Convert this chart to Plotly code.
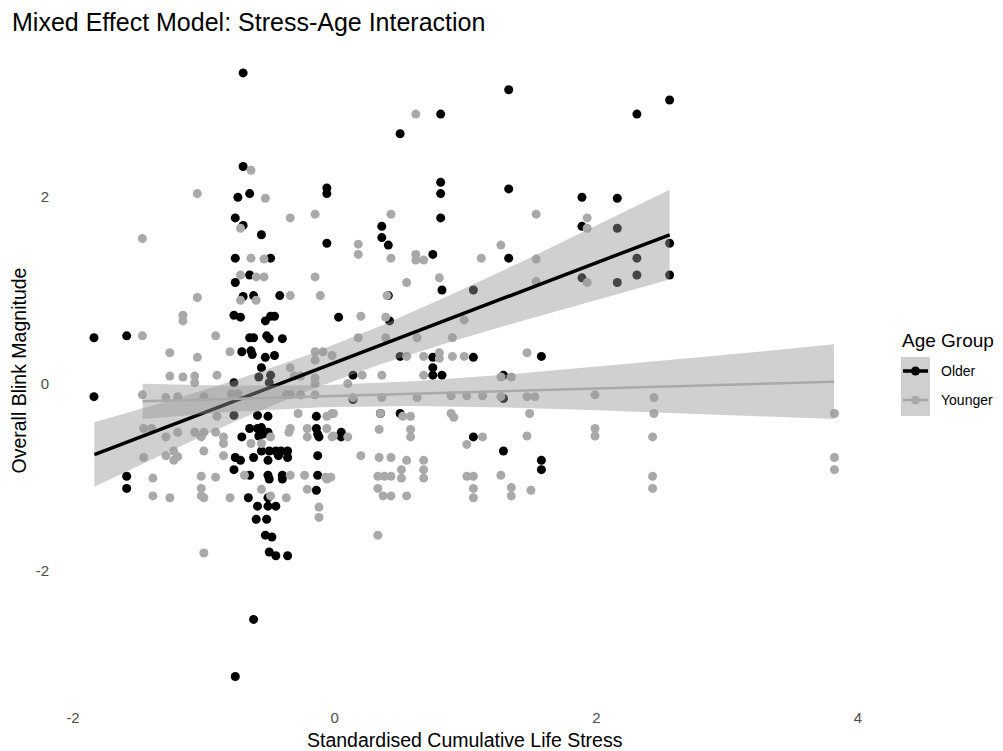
import plotly.graph_objects as go

# ---------------- data ----------------
older_stress = [
    -1.84, -1.84, -1.59, -1.59, -1.59,
    -0.70, -0.70, -0.74, -0.65, -0.06, -0.06,
    -0.76, -0.70, -0.56, -0.06, -0.76, -0.49,
    -0.65, -0.76, -0.70, -0.62, -0.42,
    -0.77, -0.72, -0.53, -0.49, -0.46, 0.03,
    -0.65, -0.62, -0.52, -0.50, -0.40,
    -0.71, -0.64, -0.63, -0.53, -0.46,
    -0.56, -0.58, -0.49, -0.77, -0.50,
    -0.77, -0.59, -0.51, -0.14,
    -0.65, -0.59, -0.56, -0.58, -0.55, -0.51, -0.71,
    -0.14, -0.13, -0.12,
    -0.56, -0.50, -0.45, -0.41, -0.36, -0.43, -0.36,
    -0.76, -0.72, -0.62, -0.51, -0.13,
    -0.77, -0.65, -0.51, -0.50, -0.40, -0.40, -0.13, -0.14,
    -0.66, -0.51, -0.59, -0.51, -0.45, -0.60, -0.52,
    -0.53, -0.48, -0.50, -0.45, -0.36, -0.62, -0.76,
    0.81, 0.50, 0.81, 0.81, 0.81, 0.36, 0.36, 0.41, 0.75,
    0.82, 1.06, 0.41, 0.42, 0.50, 0.75, 0.75, 1.06,
    0.14, 0.75, 0.82, 0.14, 0.35, 0.50, 0.05, 0.05, 1.06,
    1.33, 1.33, 1.89, 2.16, 1.89, 2.16, 1.33, 1.89, 2.16,
    1.58, 1.29, 1.29, 1.29, 1.58, 1.58,
    2.31, 2.56, 2.56, 2.31, 2.31, 2.56,
]
older_blink = [
    0.49, -0.14, 0.51, -0.99, -1.12,
    3.32, 2.32, 1.99, 2.03, 2.09, 2.03,
    1.77, 1.69, 1.59, 1.50, 1.34, 1.34,
    1.16, 1.08, 0.93, 0.94, 0.94,
    0.73, 0.71, 0.67, 0.72, 0.72, 0.71,
    0.49, 0.49, 0.51, 0.48, 0.48,
    0.34, 0.35, 0.31, 0.28, 0.30,
    0.17, 0.07, 0.09, 0.01, 0.01,
    -0.34, -0.34, -0.35, -0.35,
    -0.48, -0.48, -0.47, -0.56, -0.54, -0.52, -0.57,
    -0.48, -0.54, -0.57,
    -0.72, -0.72, -0.72, -0.72, -0.72, -0.77, -0.79,
    -0.79, -0.82, -0.79, -0.82, -0.77,
    -0.92, -0.98, -0.98, -1.02, -0.98, -1.02, -0.98, -1.14,
    -1.22, -1.22, -1.31, -1.31, -1.31, -1.45, -1.45,
    -1.62, -1.64, -1.80, -1.84, -1.84, -2.52, -3.13,
    2.88, 2.67, 2.15, 2.03, 1.77, 1.68, 1.56, 1.48, 1.38,
    1.00, 1.00, 0.94, 0.67, 0.29, 0.28, 0.17, 0.28,
    0.09, 0.09, 0.09, -0.17, -0.32, -0.32, -0.52, -0.57, -0.57,
    3.14, 2.08, 1.99, 1.98, 1.68, 1.66, 1.34, 1.13, 1.08,
    0.29, 0.09, -0.16, -0.72, -0.82, -0.92,
    2.88, 3.03, 1.50, 1.34, 1.16, 1.16,
]

younger_stress = [
    -1.05, -1.47, -1.05, -1.16, -1.16, -1.47, -1.26, -1.05,
    -1.26, -1.16, -1.07, -1.07,
    -1.47, -1.29, -1.20, -1.00, -1.46, -1.40, -1.20, -1.29,
    -1.07, -1.00, -1.02, -1.00, -1.46, -1.29, -1.23, -1.20, -1.23,
    -1.39, -1.39, -1.26, -1.02, -1.02, -1.02, -1.00, -1.00,
    -0.64, -0.53, -0.72, -0.34, -0.15, -0.64, -0.54, -0.72, -0.60, -0.54, -0.15,
    -0.34, -0.11, -0.72, -0.60, -0.91, -0.80, -0.15, -0.09, -0.34, -0.15,
    -0.90, -0.15, -0.31, -0.26, -0.15, -0.79, -0.74, -0.37, -0.34, -0.26, -0.15,
    -0.28, -0.90, -0.06, -0.01, -0.91, -0.85, -0.85, -0.49, -0.34, -0.35,
    -0.21, -0.21, -0.06, -0.01, -0.64, -0.56, -0.85, -0.69, -0.91, -0.34,
    -0.23, -0.07, -0.06, -0.56, -0.49, -0.21, -0.80, -0.37, -0.12, -0.12,
    0.62, 0.43, 0.18, 0.18, 0.43, 0.62, 0.62, 0.68, 1.12, 0.55, 0.80,
    0.40, 0.20, 0.39, 0.99, 0.18, 0.39, 0.63, 0.90, -0.02, 0.55, 0.68,
    0.80, 0.80, 0.90, 0.99, 0.21, 0.36, 0.68, 0.10, 0.14, 0.36, 0.63,
    0.89, 1.01, 1.13, -0.02, 0.35, 0.52, 0.58, 0.89, 0.91, 0.34,
    0.58, 0.58, -0.02, 0.10, 1.13, 1.01, 0.20, 0.34, 0.43, 0.55,
    0.68, 0.51, 0.68, -0.03, 0.33, 0.38, 0.43, 0.51, 0.68, 1.01,
    1.06, 0.33, 1.06, 0.37, 0.43, 0.55, 1.06, 0.33,
    1.54, 1.93, 1.93, 1.27, 1.54, 1.54, 1.93, 1.47, 1.27, 1.35,
    1.27, 1.47, 1.53, 1.99, 1.49, 1.47, 1.99, 1.99, 1.27, 1.35,
    1.35, 1.50,
    2.44, 2.44, 2.43, 2.43, 2.43, 3.82, 3.82, 3.82,
]
younger_blink = [
    2.03, 1.55, 0.92, 0.73, 0.67, 0.51, 0.33, 0.28,
    0.08, 0.07, 0.08, 0.01,
    -0.12, -0.15, -0.14, -0.14, -0.48, -0.48, -0.52, -0.57,
    -0.52, -0.52, -0.57, -0.72, -0.79, -0.77, -0.72, -0.78, -0.82,
    -1.01, -1.20, -1.22, -0.99, -1.12, -1.20, -1.22, -1.81,
    2.28, 1.98, 1.66, 1.77, 1.81, 1.34, 1.33, 1.16, 1.14, 1.14, 1.14,
    0.94, 0.94, 0.89, 0.89, 0.51, 0.34, 0.34, 0.34, 0.17, 0.25,
    0.09, 0.06, 0.08, 0.08, 0.00, -0.11, -0.11, -0.12, -0.12, -0.12, -0.12,
    -0.32, -0.35, -0.35, -0.32, -0.52, -0.57, -0.64, -0.57, -0.48, -0.52,
    -0.48, -0.57, -0.48, -0.56, -0.64, -0.64, -0.77, -0.98, -1.00, -0.98,
    -0.98, -1.00, -1.02, -1.13, -1.20, -1.13, -1.22, -1.22, -1.32, -1.43,
    2.88, 1.81, 1.49, 1.38, 1.34, 1.38, 1.32, 1.32, 1.34, 1.08, 1.13,
    0.94, 0.72, 0.71, 0.68, 0.49, 0.49, 0.49, 0.49, 0.30, 0.29, 0.29,
    0.33, 0.27, 0.29, 0.29, 0.09, 0.09, 0.09, 0.00, -0.15, -0.15, -0.15,
    -0.13, -0.13, -0.13, -0.32, -0.32, -0.35, -0.35, -0.32, -0.36, -0.49,
    -0.49, -0.57, -0.57, -0.57, -0.57, -0.65, -0.77, -0.79, -0.79, -0.82,
    -0.82, -0.92, -0.92, -1.00, -0.99, -0.99, -0.99, -1.01, -1.01, -0.99,
    -0.99, -1.12, -1.12, -1.20, -1.20, -1.20, -1.22, -1.62,
    1.81, 1.77, 1.66, 1.48, 1.33, 1.09, 1.08, 0.33, 0.07, 0.07,
    -0.14, -0.14, -0.14, -0.12, -0.32, -0.56, -0.48, -0.56, -0.98, -1.11,
    -1.20, -1.14,
    -0.15, -0.32, -0.57, -0.99, -1.12, -0.32, -0.79, -0.92,
]

# model fits with 95% confidence bands
older_fit_x = [-1.837, -1.3, -0.75, -0.2, 0.35, 0.9, 1.45, 2.0, 2.56]
older_fit = [-0.758, -0.471, -0.178, 0.116, 0.410, 0.704, 0.997, 1.291, 1.590]
older_lo = [-1.103, -0.746, -0.396, -0.075, 0.206, 0.452, 0.678, 0.895, 1.111]
older_hi = [-0.413, -0.196, 0.040, 0.307, 0.614, 0.956, 1.316, 1.687, 2.070]

younger_fit_x = [-1.468, -0.8, -0.1, 0.6, 1.3, 2.0, 2.7, 3.3, 3.817]
younger_fit = [-0.190, -0.164, -0.136, -0.108, -0.080, -0.052, -0.025, -0.001, 0.020]
younger_lo = [-0.378, -0.305, -0.253, -0.239, -0.255, -0.284, -0.319, -0.351, -0.379]
younger_hi = [-0.002, -0.022, -0.018, 0.024, 0.095, 0.179, 0.270, 0.349, 0.419]

x_ticks = [-2, 0, 2, 4]
y_ticks = [-2, 0, 2]
group_names = ["Older", "Younger"]
group_colors = ["#000000", "#A9A9A9"]
line_widths = [3.5, 2.5]

# ---------------- figure ----------------
FONT = "Liberation Sans, Arial, sans-serif"
BAND = "rgba(150,150,150,0.45)"

# the page body adds an 8px margin; layout below is in page pixels and the
# figure itself is shrunk by that offset
OFF = 8
PAGE_W, PAGE_H = 1003, 751
FIG_W, FIG_H = PAGE_W - OFF, PAGE_H - OFF

fig = go.Figure()

fig.add_trace(go.Scatter(x=older_stress, y=older_blink, mode="markers",
                         marker=dict(color=group_colors[0], size=9, line=dict(width=0)),
                         showlegend=False, hoverinfo="skip"))
fig.add_trace(go.Scatter(x=younger_stress, y=younger_blink, mode="markers",
                         marker=dict(color=group_colors[1], size=9, line=dict(width=0)),
                         showlegend=False, hoverinfo="skip"))

for fx, fy, lo, hi, col, w in [
    (older_fit_x, older_fit, older_lo, older_hi, group_colors[0], line_widths[0]),
    (younger_fit_x, younger_fit, younger_lo, younger_hi, group_colors[1], line_widths[1]),
]:
    fig.add_trace(go.Scatter(x=fx + fx[::-1], y=hi + lo[::-1], fill="toself",
                             fillcolor=BAND, line=dict(width=0), mode="lines",
                             showlegend=False, hoverinfo="skip"))
    fig.add_trace(go.Scatter(x=fx, y=fy, mode="lines", line=dict(color=col, width=w),
                             showlegend=False, hoverinfo="skip"))

# panel geometry in page pixels
L, R, T, B = 58, 872, 42, 707
W, H = R - L, B - T


def px(xp):
    return (xp - L) / W


def py(yp):
    return (B - yp) / H


shapes = [dict(type="rect", xref="paper", yref="paper",
               x0=px(901), x1=px(930), y0=py(416), y1=py(357),
               fillcolor="#CFCFCF", line=dict(width=0), layer="above")]
annotations = [
    dict(text="Age Group", x=px(900), y=py(340), xref="paper", yref="paper",
         xanchor="left", yanchor="middle", showarrow=False,
         font=dict(family=FONT, size=19, color="#000000")),
    dict(text="Standardised Cumulative Life Stress", x=0.5, y=0, xref="paper", yref="paper",
         xanchor="center", yanchor="middle", yshift=-33, showarrow=False,
         font=dict(family=FONT, size=19.5, color="#000000")),
    dict(text="Overall Blink Magnitude", x=0, y=0.5, xref="paper", yref="paper",
         xanchor="center", yanchor="middle", xshift=-40, yshift=4, textangle=-90,
         showarrow=False, font=dict(family=FONT, size=19.5, color="#000000")),
]
for i, (name, col) in enumerate(zip(group_names, group_colors)):
    yc = 371 + 29 * i
    shapes.append(dict(type="line", xref="paper", yref="paper",
                       x0=px(903), x1=px(928), y0=py(yc), y1=py(yc),
                       line=dict(color=col, width=line_widths[i]), layer="above"))
    shapes.append(dict(type="circle", xref="paper", yref="paper",
                       x0=px(911), x1=px(920), y0=py(yc + 4.5), y1=py(yc - 4.5),
                       fillcolor=col, line=dict(width=0), layer="above"))
    annotations.append(dict(text=name, x=px(939), y=py(yc), xref="paper", yref="paper",
                            xanchor="left", yanchor="middle", showarrow=False,
                            font=dict(family=FONT, size=14, color="#000000")))

fig.update_layout(
    width=FIG_W, height=FIG_H,
    margin=dict(l=L - OFF, r=PAGE_W - R, t=T - OFF, b=PAGE_H - B, autoexpand=False),
    paper_bgcolor="white", plot_bgcolor="white",
    font=dict(family=FONT, color="#4D4D4D"),
    title=dict(text="Mixed Effect Model: Stress-Age Interaction",
               x=(12 - OFF) / FIG_W, xanchor="left", xref="container",
               y=1 - (22 - OFF) / FIG_H, yanchor="middle", yref="container",
               font=dict(family=FONT, size=25, color="#000000")),
    xaxis=dict(range=[-2.115, 4.107], tickvals=x_ticks, ticktext=[str(v) for v in x_ticks],
               showgrid=False, zeroline=False, showline=False, ticks="",
               tickfont=dict(family=FONT, size=15, color="#4D4D4D")),
    yaxis=dict(range=[-3.456, 3.65], tickvals=y_ticks, ticktext=[str(v) for v in y_ticks],
               showgrid=False, zeroline=False, showline=False, ticks="",
               ticklabelstandoff=8,
               tickfont=dict(family=FONT, size=15, color="#4D4D4D")),
    shapes=shapes,
    annotations=annotations,
    showlegend=False,
)

fig.write_html("out.html")
